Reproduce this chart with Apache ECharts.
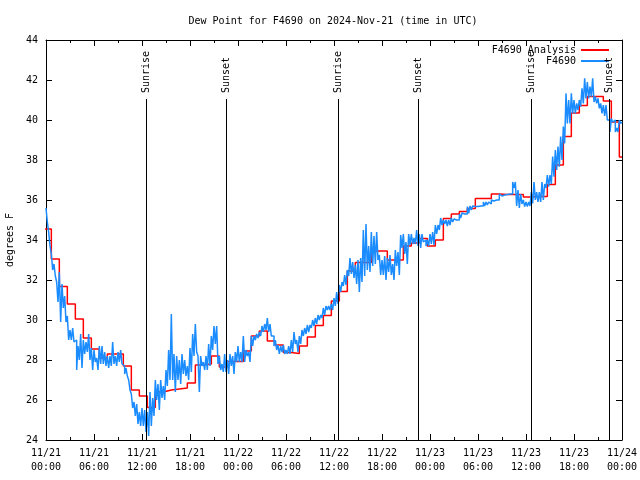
<!DOCTYPE html>
<html>
<head>
<meta charset="utf-8">
<script src="https://cdn.jsdelivr.net/npm/echarts@6/dist/echarts.min.js"></script>
<style>html,body{margin:0;padding:0;background:#fff}#c{width:640px;height:480px}</style>
</head>
<body>
<div id="c"></div>
<script>
// ---- data ----
var titleText = 'Dew Point for F4690 on 2024-Nov-21 (time in UTC)';
var yAxisTitle = 'degrees F';
var seriesNames = ['F4690 Analysis', 'F4690'];
// x axis in hours from 2024-11-21 00:00 UTC
var xTickLabels = ['11/21\n00:00','11/21\n06:00','11/21\n12:00','11/21\n18:00',
                   '11/22\n00:00','11/22\n06:00','11/22\n12:00','11/22\n18:00',
                   '11/23\n00:00','11/23\n06:00','11/23\n12:00','11/23\n18:00','11/24\n00:00'];
// hourly analysis values; each value changes at hh:40 of the previous hour
var analysisValues = [
  34.55, 33.05, 31.67, 30.8, 30.05, 29.1, 28.55, 28.1, 28.3, 28.3, 27.7, 26.5,
  26.2, 25.63, 26.4, 26.5, 26.55, 26.6, 26.85, 27.75, 27.8, 28.2, 27.65, 27.92,
  27.93, 28.45, 29.2, 29.45, 28.95, 28.75, 28.38, 28.33, 28.7, 29.15, 29.73, 30.22,
  30.95, 31.43, 32.45, 32.87, 32.87, 33.45, 33.45, 33.0, 33.0, 33.7, 33.85, 34.08,
  33.7, 34.0, 35.08, 35.3, 35.42, 35.58, 36.08, 36.08, 36.3, 36.27, 36.27, 36.27,
  36.15, 36.18, 36.18, 36.78, 37.75, 39.18, 40.35, 40.72, 41.18, 41.18, 40.95, 39.9,
  38.15
];
var analysisOffsetHours = -1 / 3;
// observations every 10 minutes
var obsDay1 = [
  35.6, 34.9, 34.4, 33.7, 33.3, 32.5,
  32.8, 32.2, 31.9, 30.9, 32.4, 29.9,
  31.8, 30.6, 31.2, 29.9, 30.2, 29.0,
  29.5, 29.0, 29.6, 28.9, 29.0, 27.5,
  28.7, 28.0, 29.3, 27.6, 29.0, 28.3,
  28.9, 28.4, 29.3, 28.0, 28.6, 27.5,
  28.5, 27.9, 28.1, 27.5, 28.7, 27.8,
  28.7, 27.8, 28.4, 27.7, 28.2, 27.6,
  28.2, 27.7, 28.9, 27.8, 28.2, 27.7,
  28.4, 27.9, 28.5, 27.8, 27.7, 27.3,
  27.6, 27.2, 27.0, 26.5, 26.3, 25.6,
  25.9, 25.2, 25.8, 24.8, 25.4, 24.7,
  25.6, 24.7, 25.5, 24.4, 25.4, 24.2,
  26.4, 24.7, 26.1, 25.2, 27.0, 26.0,
  26.8, 25.5, 27.0, 26.1, 26.7, 26.0,
  27.5, 26.7, 28.5, 27.0, 30.3, 27.0,
  28.3, 26.4, 28.2, 27.0, 28.0, 26.8,
  28.3, 27.3, 28.0, 27.2, 27.7, 27.0,
  28.6, 27.4, 29.3, 28.2, 29.8, 28.4,
  28.2, 26.4, 28.2, 27.7, 27.9, 27.5,
  28.2, 27.5, 28.8, 27.7, 29.2, 28.5,
  29.7, 28.8, 29.7, 27.8, 28.2, 27.5,
  27.8, 27.4, 28.3, 27.4, 28.0, 27.3,
  28.3, 27.7, 28.2, 27.3, 28.4, 27.9
];
var obsDay2 = [
  28.7, 27.9, 28.4, 27.9, 29.2, 27.9,
  28.5, 28.2, 28.4, 27.9, 29.2, 28.7,
  29.2, 29.0, 29.3, 29.1, 29.4, 29.2,
  29.7, 29.4, 29.8, 29.5, 30.1, 29.4,
  29.8, 29.2, 29.2, 28.7, 29.0, 28.5,
  28.75, 28.3, 28.7, 28.4, 28.75, 28.3,
  28.5, 28.3, 28.7, 28.3, 29.0, 28.4,
  29.4, 28.8, 29.0, 28.4, 29.2, 28.8,
  29.5, 29.2, 29.6, 29.3, 29.75, 29.4,
  29.75, 29.6, 30.0, 29.7, 30.1, 29.8,
  30.25, 30.0, 30.25, 30.1, 30.6, 30.25,
  30.7, 30.5, 30.7, 30.5, 30.8, 30.5,
  31.1, 30.7, 31.4, 30.8, 31.75, 31.4,
  31.9, 31.7, 32.25, 31.75, 32.5, 32.2,
  33.1, 32.3, 32.9, 32.1, 32.75, 31.8,
  33.0, 31.4, 33.1, 31.9, 34.5, 32.2,
  34.8, 32.5, 33.7, 32.4, 34.4, 32.7,
  34.2, 32.8, 34.4, 33.0, 33.25, 32.25,
  33.0, 32.25, 33.2, 32.0, 33.1, 32.4,
  33.25, 32.25, 32.8, 32.0, 33.5, 32.7,
  33.4, 32.25, 34.25, 33.6, 34.3, 33.3,
  33.9, 32.8, 34.3, 33.75, 34.3, 33.8,
  34.1, 33.8, 34.5, 33.7, 34.3, 33.6,
  34.3, 33.9, 34.0, 33.7, 34.0, 33.7
];
var obsDay3 = [
  34.3, 33.8, 34.4, 33.75, 34.75, 34.3,
  34.75, 34.5, 35.1, 34.75, 35.0, 34.8,
  35.0, 34.7, 35.0, 34.75, 35.1, 34.9,
  35.05, 35.0, 35.1, 35.0, 35.3, 35.1,
  35.35, 35.3, 35.4, 35.3, 35.67, 35.33,
  35.7, 35.5, 35.7, 35.67, 35.75, 35.67,
  35.7, 35.7, 35.7, 35.7, 35.9, 35.7,
  35.9, 35.75, 35.9, 35.8, 36.0, 35.95,
  36.0, 36.0, 36.05, 36.0, 36.3, 36.2,
  36.3, 36.25, 36.28, 36.28, 36.3, 36.3,
  36.35, 36.3, 36.9, 36.6, 36.9, 35.7,
  36.5, 35.6, 36.3, 35.8, 36.0, 35.67,
  35.9, 35.67, 35.9, 35.7, 36.4, 35.83,
  36.9, 36.0, 36.4, 35.9, 36.4, 35.9,
  36.9, 36.0, 36.8, 36.6, 37.25, 36.67,
  37.25, 36.8, 38.17, 37.17, 38.5, 37.5,
  38.67, 37.67, 39.17, 38.0, 39.67, 38.83,
  41.33, 39.83, 41.0, 39.83, 41.33, 40.33,
  41.0, 40.33, 40.83, 40.5, 41.0, 40.67,
  41.58, 40.83, 42.08, 41.08, 41.9, 41.08,
  41.67, 41.17, 42.08, 40.9, 41.17, 40.83,
  41.08, 40.58, 40.83, 40.33, 40.75, 40.2,
  40.75, 40.0, 40.0, 39.4, 40.08, 39.9,
  40.0, 39.4, 39.6, 39.4, 40.0, 39.83,
  39.9
];
var obsStepHours = 1 / 6;
var sunTimes = [12.55, 22.5, 36.55, 46.45, 60.6, 70.4];
var sunLabels = ['Sunrise', 'Sunset', 'Sunrise', 'Sunset', 'Sunrise', 'Sunset'];

// ---- build ----
var FONT = 'DejaVu Sans Mono';
var X_MIN = 0, X_MAX = 72, X_STEP = 6;
var Y_MIN = 24, Y_MAX = 44, Y_STEP = 2;
var SUN_LINE_TOP = 41.05;

var analysisData = analysisValues.map(function (v, i) { return [i + analysisOffsetHours, v]; });
analysisData.push([X_MAX, analysisValues[analysisValues.length - 1]]);
var obsValues = obsDay1.concat(obsDay2, obsDay3);
var obsData = obsValues.map(function (v, i) { return [i * obsStepHours, v]; });
var sunData = sunTimes.map(function (t) { return [t]; });

var chart = echarts.init(document.getElementById('c'), null, { renderer: 'canvas' });

function xAxisCfg(pos, showLabel) {
  return {
    type: 'value', position: pos, min: X_MIN, max: X_MAX, interval: X_STEP,
    axisLine: { show: true, onZero: false, lineStyle: { color: '#000', width: 1 } },
    axisTick: { show: true, inside: true, length: 6, lineStyle: { color: '#000' } },
    minorTick: { show: true, splitNumber: 2, length: 3, lineStyle: { color: '#000' } },
    splitLine: { show: false },
    axisLabel: {
      show: showLabel, margin: 6, color: '#000', fontFamily: FONT, fontSize: 10, lineHeight: 14,
      formatter: function (v) { return xTickLabels[Math.round(v / X_STEP)]; }
    }
  };
}
function yAxisCfg(pos, showLabel) {
  return {
    type: 'value', position: pos, min: Y_MIN, max: Y_MAX, interval: Y_STEP,
    name: showLabel ? yAxisTitle : '', nameLocation: 'middle', nameGap: 31,
    nameTextStyle: { color: '#000', fontFamily: FONT, fontSize: 10 },
    axisLine: { show: true, onZero: false, lineStyle: { color: '#000', width: 1 } },
    axisTick: { show: true, inside: true, length: 6, lineStyle: { color: '#000' } },
    splitLine: { show: false },
    axisLabel: { show: showLabel, margin: 8, color: '#000', fontFamily: FONT, fontSize: 10 }
  };
}

chart.setOption({
  animation: false,
  backgroundColor: '#fff',
  title: {
    text: titleText, left: 328, top: 11, textAlign: 'center',
    textStyle: { fontFamily: FONT, fontSize: 10, fontWeight: 'normal', color: '#000' }
  },
  legend: {
    orient: 'vertical', right: 25, top: 40, align: 'right',
    itemWidth: 28, itemHeight: 12, itemGap: 1,
    itemStyle: { opacity: 0 },
    textStyle: { fontFamily: FONT, fontSize: 10, color: '#000' },
    data: seriesNames
  },
  grid: { left: 46, right: 18, top: 40, bottom: 40, containLabel: false, outerBoundsMode: 'none' },
  xAxis: [xAxisCfg('bottom', true), xAxisCfg('top', false)],
  yAxis: [yAxisCfg('left', true), yAxisCfg('right', false)],
  series: [
    {
      name: seriesNames[0], type: 'line', step: 'end', data: analysisData,
      xAxisIndex: 0, yAxisIndex: 0, symbol: 'none', showSymbol: false,
      lineStyle: { color: '#ff0000', width: 1.5 }, itemStyle: { color: '#ff0000' }, z: 2
    },
    {
      name: seriesNames[1], type: 'line', step: 'end', data: obsData,
      xAxisIndex: 0, yAxisIndex: 0, symbol: 'none', showSymbol: false,
      lineStyle: { color: '#1a8cff', width: 1.5 }, itemStyle: { color: '#1a8cff' }, z: 3
    },
    {
      name: 'sun', type: 'custom', data: sunData, xAxisIndex: 0, yAxisIndex: 0,
      encode: { x: 0 }, z: 4, silent: true,
      renderItem: function (params, api) {
        var t = api.value(0);
        var p0 = api.coord([t, Y_MIN]);
        var p1 = api.coord([t, SUN_LINE_TOP]);
        var x = Math.round(p0[0]) + 0.5;
        return {
          type: 'group',
          children: [
            { type: 'line', shape: { x1: x, y1: p0[1], x2: x, y2: p1[1] },
              style: { stroke: '#000', lineWidth: 1 } },
            { type: 'text', x: x, y: p1[1] - 6, rotation: Math.PI / 2,
              style: { text: sunLabels[params.dataIndex], fill: '#000',
                       font: '10px "' + FONT + '"', align: 'left', verticalAlign: 'middle' } }
          ]
        };
      }
    }
  ]
});
</script>
</body>
</html>
